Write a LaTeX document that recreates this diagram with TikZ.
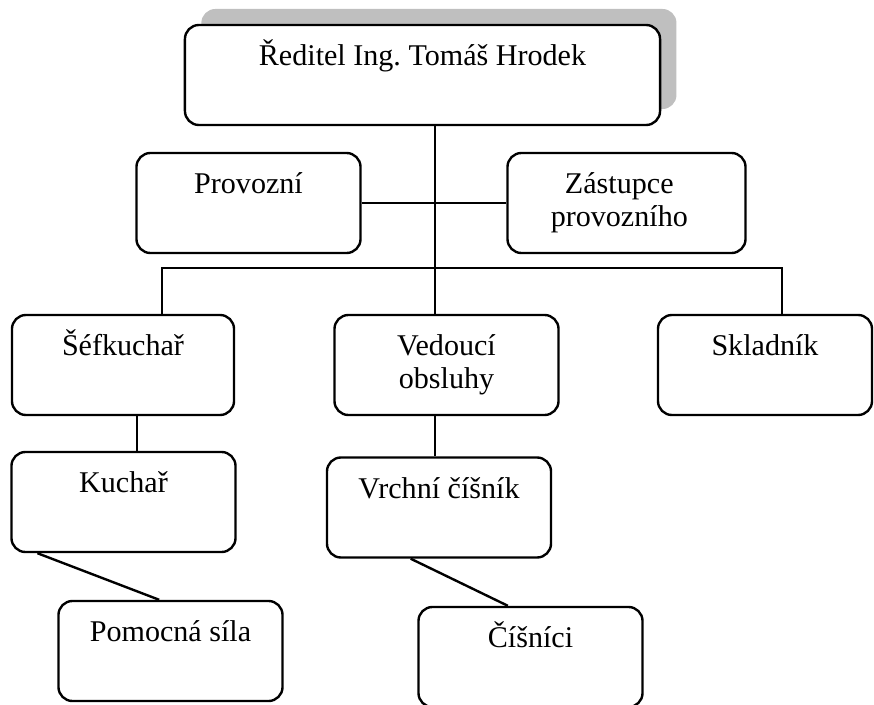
\documentclass[tikz,border=0pt]{standalone}
\usepackage{fontspec}
\setmainfont{Liberation Serif}
\usetikzlibrary{positioning, calc, shadows}
\tikzset{
  every picture/.style={line width=1.7pt},
  box/.style={draw, fill=white, rounded corners=0.35cm, minimum width=5.6cm, minimum height=2.5cm},
  tag/.style={anchor=base, align=center, inner sep=0pt, font=\fontsize{21.4}{23.5}\selectfont},
}

\begin{document}
\begin{tikzpicture}[x=0.025cm, y=-0.025cm]
  \useasboundingbox (0,0) rectangle (874,704);
  \clip (0,0) rectangle (874,704);
  % director with shadow
  \node[box, minimum width=11.875cm, drop shadow={shadow xshift=0.41cm, shadow yshift=0.4cm, fill=black!25, opacity=1}] (dir) at (422.5,75) {};
  \node[tag] (dir-t) at ([yshift=-1.05cm]dir.north) {Ředitel Ing.\ Tomáš Hrodek};
  % two-line labels: base is the last line
  \node[box, minimum width=5.95cm] (zast) at (626.5,203) {};
  \node[tag] (zast-t) at ([xshift=-0.18cm, yshift=-1.875cm]zast.north) {Zástupce\\provozního};
  \node[box] (ved) at (446.5,365) {};
  \node[tag] (ved-t) at ([yshift=-1.875cm]ved.north) {Vedoucí\\obsluhy};
  % the other boxes
  \foreach \n/\x/\y/\w/\t in {prov/248.5/203/5.6/Provozní, sef/123/365/5.55/Šéfkuchař, sklad/765/365/5.35/Skladník, kuch/123.5/502/5.6/Kuchař, vrch/439/507.5/5.6/Vrchní číšník, pom/170.5/651/5.6/Pomocná síla, cis/530.5/657/5.6/Číšníci} {
    \node[box, minimum width=\w cm] (\n) at (\x,\y) {};
    \node[tag] (\n-t) at ([yshift=-1.05cm]\n.north) {\t};
  }
  % connectors
  \coordinate (trunk) at (435,0);
  \coordinate (busL) at (162,268);
  \coordinate (busR) at (782,268);
  \coordinate (cook) at (137,0);
  \draw (trunk |- dir.south) -- (trunk |- ved.north);
  \draw (prov.east) -- (zast.west);
  \draw (sef.north -| busL) -- (busL) -- (busR) -- (sklad.north -| busR);
  \draw (cook |- sef.south) -- (cook |- kuch.north);
  \draw (trunk |- ved.south) -- (trunk |- vrch.north);
  \draw ($(kuch.south west)!0.12!(kuch.south east)$) -- ($(pom.north west)!0.45!(pom.north east)$);
  \draw ($(vrch.south west)!0.375!(vrch.south east)$) -- ($(cis.north west)!0.4!(cis.north east)$);
\end{tikzpicture}
\end{document}
